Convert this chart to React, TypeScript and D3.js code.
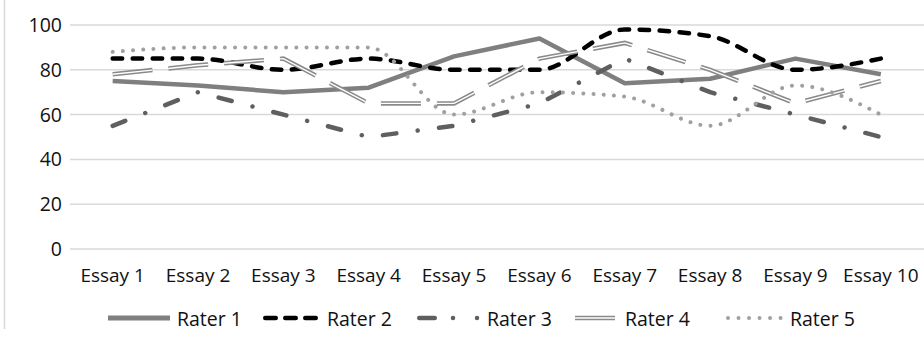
import React from "react";
import * as d3 from "d3";

const essays = ["Essay 1", "Essay 2", "Essay 3", "Essay 4", "Essay 5", "Essay 6", "Essay 7", "Essay 8", "Essay 9", "Essay 10"];
const rater1 = [75, 73, 70, 72, 86, 94, 74, 76, 85, 78];
const rater2 = [85, 85, 80, 85, 80, 80, 98, 95, 80, 85];
const rater3 = [55, 70, 60, 50, 55, 65, 85, 70, 60, 50];
const rater4 = [78, 82, 85, 65, 65, 85, 92, 80, 65, 75];
const rater5 = [88, 90, 90, 90, 60, 70, 68, 55, 73, 60];
const yTicks = [0, 20, 40, 60, 80, 100];
const raterNames = ["Rater 1", "Rater 2", "Rater 3", "Rater 4", "Rater 5"];

const W = 924;
const H = 339;
const FONT = "'Open Sans', sans-serif";

export default function App() {
  const x = d3.scaleBand<string>().domain(essays).range([70, 923.5]);
  const y = d3.scaleLinear().domain([0, 100]).range([249, 25]);
  const cx = (i: number) => (x(essays[i]) as number) + x.bandwidth() / 2;

  const straight = d3.line<number>().x((_, i) => cx(i)).y((v) => y(v));
  const smooth = d3.line<number>().x((_, i) => cx(i)).y((v) => y(v)).curve(d3.curveMonotoneX);

  const legendY = 318;
  const legendTextY = 325.5;

  return (
    <svg width={W} height={H} style={{ position: "absolute", left: 0, top: 0, background: "#fff" }} fontFamily={FONT}>
      <rect x={0} y={0} width={W} height={H} fill="#fff" />
      <line x1={4.5} x2={4.5} y1={0} y2={329} stroke="#d9d9d9" strokeWidth={1.5} />
      {yTicks.map((t) => (
        <g key={t}>
          <line x1={70} x2={W} y1={y(t)} y2={y(t)} stroke="#d9d9d9" strokeWidth={1.5} />
          <text x={62} y={y(t) + 7} textAnchor="end" fontSize={19.5} fill="#111">{t}</text>
        </g>
      ))}
      {essays.map((e, i) => (
        <text key={e} x={cx(i)} y={282} textAnchor="middle" fontSize={19} fill="#111">{e}</text>
      ))}

      {/* Rater 1 */}
      <path d={straight(rater1) as string} fill="none" stroke="#7f7f7f" strokeWidth={4.5} strokeLinejoin="round" />
      {/* Rater 2 */}
      <path d={smooth(rater2) as string} fill="none" stroke="#000" strokeWidth={4.5} strokeDasharray="9.5,10.5" strokeLinecap="round" />
      {/* Rater 3 */}
      <path d={straight(rater3) as string} fill="none" stroke="#5f5f5f" strokeWidth={4.5} strokeDasharray="13.5,21.5,0.01,21.5" strokeLinecap="round" />
      {/* Rater 4 */}
      <path d={straight(rater4) as string} fill="none" stroke="#8a8a8a" strokeWidth={4.5} strokeDasharray="40,16" />
      <path d={straight(rater4) as string} fill="none" stroke="#fff" strokeWidth={1.4} strokeDasharray="40,16" />
      {/* Rater 5 */}
      <path d={smooth(rater5) as string} fill="none" stroke="#a0a0a0" strokeWidth={4} strokeDasharray="0.01,10.2" strokeLinecap="round" />

      {/* Legend */}
      <g>
        <line x1={108} x2={170} y1={legendY} y2={legendY} stroke="#7f7f7f" strokeWidth={5} />
        <text x={177} y={legendTextY} fontSize={19.5} fill="#111">{raterNames[0]}</text>

        <line x1={265.25} x2={320} y1={legendY} y2={legendY} stroke="#000" strokeWidth={4.5} strokeDasharray="10.5,9.5" strokeLinecap="round" />
        <text x={327} y={legendTextY} fontSize={19.5} fill="#111">{raterNames[1]}</text>

        <line x1={419.25} x2={478} y1={legendY} y2={legendY} stroke="#5f5f5f" strokeWidth={4.5} strokeDasharray="15.5,18.25,0.01,24,0.01,100" strokeLinecap="round" />
        <text x={487} y={legendTextY} fontSize={19.5} fill="#111">{raterNames[2]}</text>

        <line x1={575} x2={615} y1={legendY} y2={legendY} stroke="#8a8a8a" strokeWidth={4.5} />
        <line x1={575} x2={615} y1={legendY} y2={legendY} stroke="#fff" strokeWidth={1.4} />
        <text x={625} y={legendTextY} fontSize={19.5} fill="#111">{raterNames[3]}</text>

        <line x1={728} x2={782} y1={legendY} y2={legendY} stroke="#a0a0a0" strokeWidth={4} strokeDasharray="0.01,10.5" strokeLinecap="round" />
        <text x={790} y={legendTextY} fontSize={19.5} fill="#111">{raterNames[4]}</text>
      </g>
    </svg>
  );
}
